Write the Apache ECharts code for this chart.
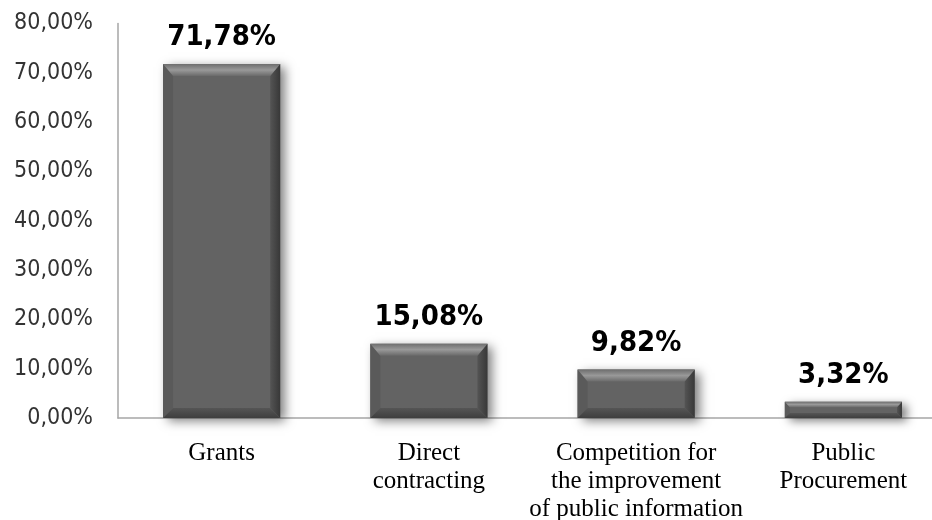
<!DOCTYPE html>
<html>
<head>
<meta charset="utf-8">
<script src="https://cdn.jsdelivr.net/npm/echarts@6/dist/echarts.min.js"></script>
<style>html,body{margin:0;padding:0;background:#fff;}#c{width:932px;height:520px;}</style>
</head>
<body>
<div id="c"></div>
<script>
const categories = ['Grants', 'Direct\ncontracting', 'Competition for\nthe improvement\nof public information', 'Public\nProcurement'];
const values = [71.78, 15.08, 9.82, 3.32];
const yTicks = { min: 0, max: 80, interval: 10 };

function pct(v) { return v.toFixed(2).replace('.', ',') + '%'; }

const chart = echarts.init(document.getElementById('c'));
chart.setOption({
  animation: false,
  backgroundColor: '#ffffff',
  grid: { left: 118, right: -15, top: 23.5, bottom: 102, containLabel: false, outerBoundsMode: 'none' },
  xAxis: {
    type: 'category',
    data: categories,
    axisLine: { show: true, lineStyle: { color: '#a6a6a6', width: 1.5 } },
    axisTick: { show: false },
    axisLabel: {
      margin: 21,
      interval: 0,
      color: '#000',
      fontFamily: '"Liberation Serif", serif',
      fontSize: 25,
      lineHeight: 28
    }
  },
  yAxis: {
    type: 'value',
    min: yTicks.min, max: yTicks.max, interval: yTicks.interval,
    axisLine: { show: true, lineStyle: { color: '#a6a6a6', width: 1.5 } },
    axisTick: { show: false },
    splitLine: { show: false },
    axisLabel: {
      margin: 25,
      color: '#333333',
      fontFamily: '"DejaVu Sans Condensed", "DejaVu Sans", sans-serif',
      fontSize: 23,
      formatter: v => pct(v)
    }
  },
  series: [{
    type: 'custom',
    data: values.map((v, i) => [i, v]),
    encode: { x: 0, y: 1 },
    clip: false,
    renderItem: function (params, api) {
      const i = api.value(0), v = api.value(1);
      const top = api.coord([i, v]);
      const base = api.coord([i, 0]);
      const w = api.size([1, 0])[0] * 0.565;
      const x0 = top[0] - w / 2, x1 = top[0] + w / 2;
      const y0 = top[1], y1 = base[1];
      const h = y1 - y0;
      const b = Math.min(10, h * 0.3);
      const bt = Math.min(12, h * 0.35);
      return {
        type: 'group',
        children: [
          { type: 'rect', shape: { x: x0, y: y0, width: w, height: h },
            style: { fill: '#636363', shadowBlur: 10, shadowOffsetX: 5, shadowOffsetY: 3, shadowColor: 'rgba(0,0,0,0.5)' } },
          { type: 'polygon', shape: { points: [[x0, y0], [x0 + b, y0 + bt], [x0 + b, y1 - b], [x0, y1]] },
            style: { fill: '#5a5a5a' } },
          { type: 'polygon', shape: { points: [[x1, y0], [x1, y1], [x1 - b, y1 - b], [x1 - b, y0 + bt]] },
            style: { fill: new echarts.graphic.LinearGradient(0, 0, 1, 0, [
              { offset: 0, color: '#545454' }, { offset: 1, color: '#383838' }]) } },
          { type: 'polygon', shape: { points: [[x0, y1], [x1, y1], [x1 - b, y1 - b], [x0 + b, y1 - b]] },
            style: { fill: new echarts.graphic.LinearGradient(0, 0, 0, 1, [
              { offset: 0, color: '#555555' }, { offset: 1, color: '#3e3e3e' }]) } },
          { type: 'polygon', shape: { points: [[x0, y0], [x1, y0], [x1 - b, y0 + bt], [x0 + b, y0 + bt]] },
            style: { fill: new echarts.graphic.LinearGradient(0, 0, 0, 1, [
              { offset: 0, color: '#6e6e6e' }, { offset: 0.5, color: '#999999' }, { offset: 1, color: '#6a6a6a' }]) } },
          { type: 'text',
            style: { text: pct(v), x: top[0], y: y0 - 12, align: 'center', verticalAlign: 'bottom',
              fontFamily: '"DejaVu Sans Condensed", "DejaVu Sans", sans-serif', fontWeight: 'bold', fontSize: 29, fill: '#000' } }
        ]
      };
    }
  }]
});
</script>
</body>
</html>
